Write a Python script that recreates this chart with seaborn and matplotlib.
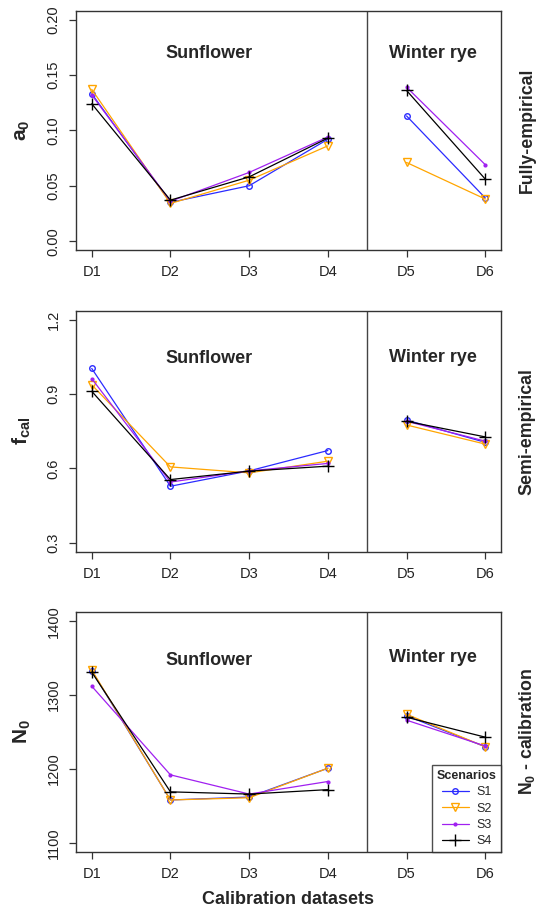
import numpy as np
import pandas as pd
import matplotlib
matplotlib.use("Agg")
import matplotlib.pyplot as plt
from matplotlib.lines import Line2D
import seaborn as sns

# ---------------- data ----------------
datasets = ["D1", "D2", "D3", "D4", "D5", "D6"]
crops = ["Sunflower", "Sunflower", "Sunflower", "Sunflower", "Winter rye", "Winter rye"]
scenarios = ["S1", "S2", "S3", "S4"]

a0_S1 = [0.133, 0.035, 0.050, 0.092, 0.113, 0.039]
a0_S2 = [0.137, 0.034, 0.055, 0.086, 0.071, 0.038]
a0_S3 = [0.132, 0.036, 0.062, 0.094, 0.139, 0.069]
a0_S4 = [0.124, 0.037, 0.058, 0.093, 0.136, 0.056]

fcal_S1 = [1.003, 0.528, 0.590, 0.672, 0.795, 0.705]
fcal_S2 = [0.937, 0.606, 0.582, 0.629, 0.775, 0.698]
fcal_S3 = [0.962, 0.545, 0.590, 0.620, 0.790, 0.710]
fcal_S4 = [0.911, 0.555, 0.589, 0.609, 0.790, 0.727]

N0_S1 = [1333, 1158, 1162, 1201, 1272, 1230]
N0_S2 = [1334, 1158, 1161, 1201, 1274, 1230]
N0_S3 = [1312, 1192, 1166, 1183, 1266, 1231]
N0_S4 = [1331, 1169, 1166, 1172, 1270, 1243]

panel_values = {
    "a0": [a0_S1, a0_S2, a0_S3, a0_S4],
    "fcal": [fcal_S1, fcal_S2, fcal_S3, fcal_S4],
    "N0": [N0_S1, N0_S2, N0_S3, N0_S4],
}
panel_yticks = {
    "a0": ["0.00", "0.05", "0.10", "0.15", "0.20"],
    "fcal": ["0.3", "0.6", "0.9", "1.2"],
    "N0": ["1100", "1200", "1300", "1400"],
}
panel_ylabels = {
    "a0": r"$\mathbf{a}_\mathbf{0}$",
    "fcal": r"$\mathbf{f}_\mathbf{cal}$",
    "N0": r"$\mathbf{N}_\mathbf{0}$",
}
panel_right = {
    "a0": "Fully-empirical",
    "fcal": "Semi-empirical",
    "N0": r"$\mathbf{N}_\mathbf{0}$ - calibration",
}

# ---------------- style ----------------
sns.set_style("ticks")
plt.rcParams["font.family"] = ["Liberation Sans", "DejaVu Sans"]
plt.rcParams["mathtext.fontset"] = "custom"
plt.rcParams["mathtext.rm"] = "Liberation Sans"
plt.rcParams["mathtext.bf"] = "Liberation Sans:bold"
plt.rcParams["mathtext.it"] = "Liberation Sans:italic"

colors = {"S1": "#2b2bff", "S2": "#ffa500", "S3": "#a020f0", "S4": "#000000"}
markers = {"S1": "o", "S2": "v", "S3": ".", "S4": "+"}
msizes = {"S1": 4, "S2": 6, "S3": 4, "S4": 8}
mfcs = {"S1": "none", "S2": "none", "S3": "#a020f0", "S4": "none"}

W, H = 538, 910
fig = plt.figure(figsize=(W / 100, H / 100), dpi=100)
fig.patch.set_facecolor("white")

# pixel boxes (left, top, right, bottom)
boxes = {
    "a0": (76, 10.7, 501, 250),
    "fcal": (76, 310.7, 501, 551.7),
    "N0": (76, 612.3, 501, 851.7),
}
text_y = {"a0": (0.82, 0.82), "fcal": (0.80, 0.805), "N0": (0.80, 0.81)}

xpos = np.arange(1, len(datasets) + 1)

for key in ["a0", "fcal", "N0"]:
    l, t, r, b = boxes[key]
    ax = fig.add_axes([l / W, 1 - b / H, (r - l) / W, (b - t) / H])
    vals = panel_values[key]
    for s, v in zip(scenarios, vals):
        df = pd.DataFrame({"x": xpos, "val": v, "crop": crops})
        sns.lineplot(data=df, x="x", y="val", units="crop", estimator=None,
                     color=colors[s], marker=markers[s], markersize=msizes[s],
                     markerfacecolor=mfcs[s], markeredgecolor=colors[s],
                     markeredgewidth=1.0, linewidth=0.9, ax=ax, legend=False)
    ticks = [float(x) for x in panel_yticks[key]]
    lo, hi = ticks[0], ticks[-1]
    pad = 0.04 * (hi - lo)
    ax.set_ylim(lo - pad, hi + pad)
    ax.set_xlim(0.8, 6.2)
    ax.set_yticks(ticks)
    ax.set_yticklabels(panel_yticks[key], rotation=90, va="center", fontsize=10.5, color="#222222")
    ax.set_xticks(xpos)
    ax.set_xticklabels(datasets, fontsize=10.5, color="#222222")
    ax.tick_params(axis="both", direction="out", length=5, width=0.9, colors="#333333")
    ax.tick_params(axis="y", pad=6, labelcolor="#222222")
    ax.tick_params(axis="x", pad=6, labelcolor="#222222")
    ax.set_xlabel("")
    ax.set_ylabel("")
    for sp in ax.spines.values():
        sp.set_visible(True)
        sp.set_linewidth(1.0)
        sp.set_color("#333333")
    ax.axvline(4.5, color="#444444", lw=1.0)
    ax.text(0.313, text_y[key][0], "Sunflower", transform=ax.transAxes,
            ha="center", va="center", fontsize=13, fontweight="bold")
    ax.text(0.839, text_y[key][1], "Winter rye", transform=ax.transAxes,
            ha="center", va="center", fontsize=13, fontweight="bold")
    yc = 1 - (t + b) / 2 / H
    fig.text(22 / W, yc, panel_ylabels[key], rotation=90, ha="center", va="center",
             fontsize=15, fontweight="bold")
    fig.text(527 / W, yc, panel_right[key], rotation=90, ha="center", va="center",
             fontsize=12.8, fontweight="bold")
    if key == "N0":
        handles = [Line2D([0], [0], color=colors[s], marker=markers[s], markersize=msizes[s],
                          markerfacecolor=mfcs[s], markeredgecolor=colors[s], lw=0.9)
                   for s in scenarios]
        leg = ax.legend(handles, scenarios, title="Scenarios", loc="lower right",
                        bbox_to_anchor=(1, 0), borderaxespad=0, fontsize=9,
                        title_fontproperties={"weight": "bold", "size": 9},
                        frameon=True, fancybox=False, edgecolor="#222222",
                        labelspacing=0.35, handlelength=2.2, handletextpad=0.6,
                        borderpad=0.35)
        leg.get_frame().set_linewidth(1.0)

fig.text(288 / W, 1 - 900 / H, "Calibration datasets", ha="center", va="center",
         fontsize=13, fontweight="bold")

fig.savefig("out.png", dpi=100, facecolor="white")
